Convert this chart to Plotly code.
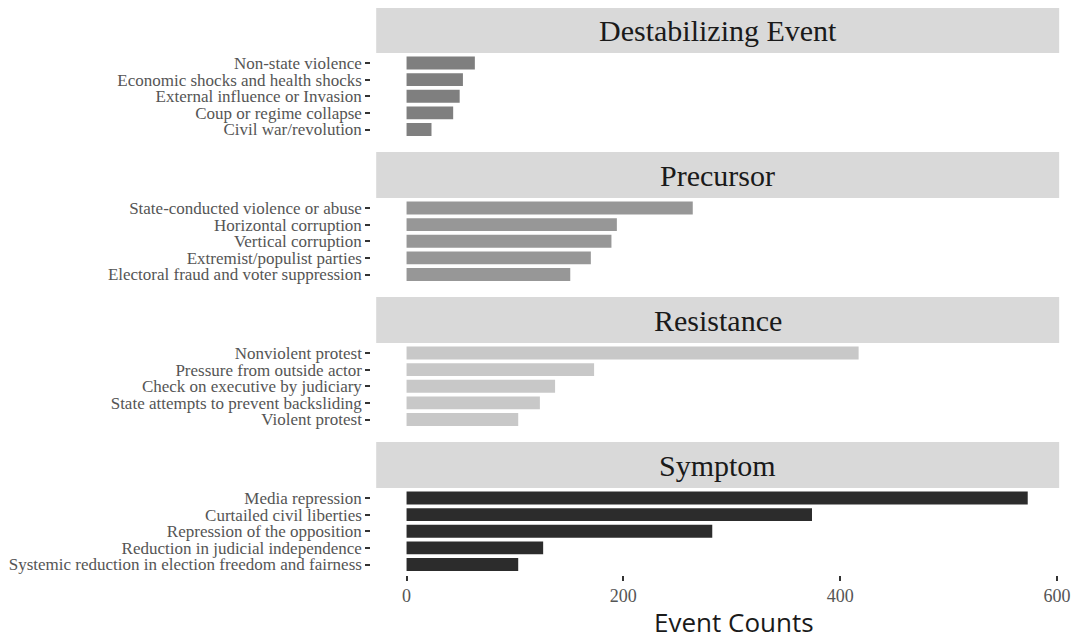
import plotly.graph_objects as go

# ---- data ----
groups = ["Destabilizing Event", "Precursor", "Resistance", "Symptom"]

destab_labels = ["Non-state violence", "Economic shocks and health shocks",
                 "External influence or Invasion", "Coup or regime collapse",
                 "Civil war/revolution"]
destab_values = [63, 52, 49, 43, 23]

precursor_labels = ["State-conducted violence or abuse", "Horizontal corruption",
                    "Vertical corruption", "Extremist/populist parties",
                    "Electoral fraud and voter suppression"]
precursor_values = [264, 194, 189, 170, 151]

resistance_labels = ["Nonviolent protest", "Pressure from outside actor",
                     "Check on executive by judiciary",
                     "State attempts to prevent backsliding", "Violent protest"]
resistance_values = [417, 173, 137, 123, 103]

symptom_labels = ["Media repression", "Curtailed civil liberties",
                  "Repression of the opposition",
                  "Reduction in judicial independence",
                  "Systemic reduction in election freedom and fairness"]
symptom_values = [573, 374, 282, 126, 103]

x_ticks = [0, 200, 400, 600]

# ---- styling ----
OFF = 8  # page body margin in the browser
W, H = 1086 - OFF, 643 - OFF
bar_colors = ["#7f7f7f", "#979797", "#c8c8c8", "#2c2c2c"]
serif = "Liberation Serif, Times New Roman, serif"
PX_L, PX_R = 380, 1070
x_range = [-28, 602]

panels = [
    (destab_labels, destab_values),
    (precursor_labels, precursor_values),
    (resistance_labels, resistance_values),
    (symptom_labels, symptom_values),
]

fig = go.Figure()
layout = dict(
    width=W, height=H,
    margin=dict(l=0, r=0, t=0, b=0),
    paper_bgcolor="white", plot_bgcolor="white",
    showlegend=False, bargap=0.22,
    shapes=[], annotations=[],
)

def py(p):
    return 1 - (p - OFF) / H

def pxx(p):
    return (p - OFF) / W

for k, (labels, values) in enumerate(panels):
    n = k + 1
    xa = "x" if n == 1 else f"x{n}"
    ya = "y" if n == 1 else f"y{n}"
    fig.add_trace(go.Bar(
        x=values, y=labels, orientation="h",
        marker=dict(color=bar_colors[k], line=dict(width=0)),
        xaxis=xa, yaxis=ya, hoverinfo="x+y",
    ))
    strip_top = 7 + 145 * k
    strip_bot = 53 + 145 * k
    pan_top = strip_bot
    pan_bot = 139.5 + 145 * k
    xkey = "xaxis" if n == 1 else f"xaxis{n}"
    ykey = "yaxis" if n == 1 else f"yaxis{n}"
    layout[xkey] = dict(
        domain=[pxx(PX_L), pxx(PX_R)], range=x_range, anchor=ya,
        showgrid=False, zeroline=False, showline=False,
        tickmode="array", tickvals=x_ticks, showticklabels=(n == 4),
        ticks="outside" if n == 4 else "", ticklen=5, tickwidth=2,
        tickcolor="#333333",
        tickfont=dict(family=serif, size=18, color="#555555"),
    )
    layout[ykey] = dict(
        domain=[py(pan_bot), py(pan_top)], anchor="free",
        position=pxx(374), type="category",
        categoryorder="array", categoryarray=list(reversed(labels)),
        tickmode="array", tickvals=labels, ticktext=labels,
        range=[-0.6, 4.6], showgrid=False, zeroline=False, showline=False,
        ticks="outside", ticklen=5, tickwidth=2, tickcolor="#333333",
        tickfont=dict(family=serif, size=17, color="#555555"),
    )
    layout["shapes"].append(dict(
        type="rect", xref="paper", yref="paper",
        x0=pxx(PX_L), x1=pxx(PX_R), y0=py(strip_bot), y1=py(strip_top),
        fillcolor="#d9d9d9", line=dict(width=0), layer="below",
    ))
    layout["annotations"].append(dict(
        text=groups[k], xref="paper", yref="paper",
        x=pxx((PX_L + PX_R) / 2), y=py((strip_top + strip_bot) / 2),
        xanchor="center", yanchor="middle", showarrow=False,
        font=dict(family=serif, size=30, color="#1a1a1a"),
    ))

layout["annotations"].append(dict(
    text="Event Counts", xref="paper", yref="paper",
    x=pxx(741), y=py(622), xanchor="center", yanchor="middle",
    showarrow=False, font=dict(family="Open Sans, sans-serif", size=26, color="#1a1a1a"),
))

fig.update_layout(**layout)
fig.write_html("out.html")
